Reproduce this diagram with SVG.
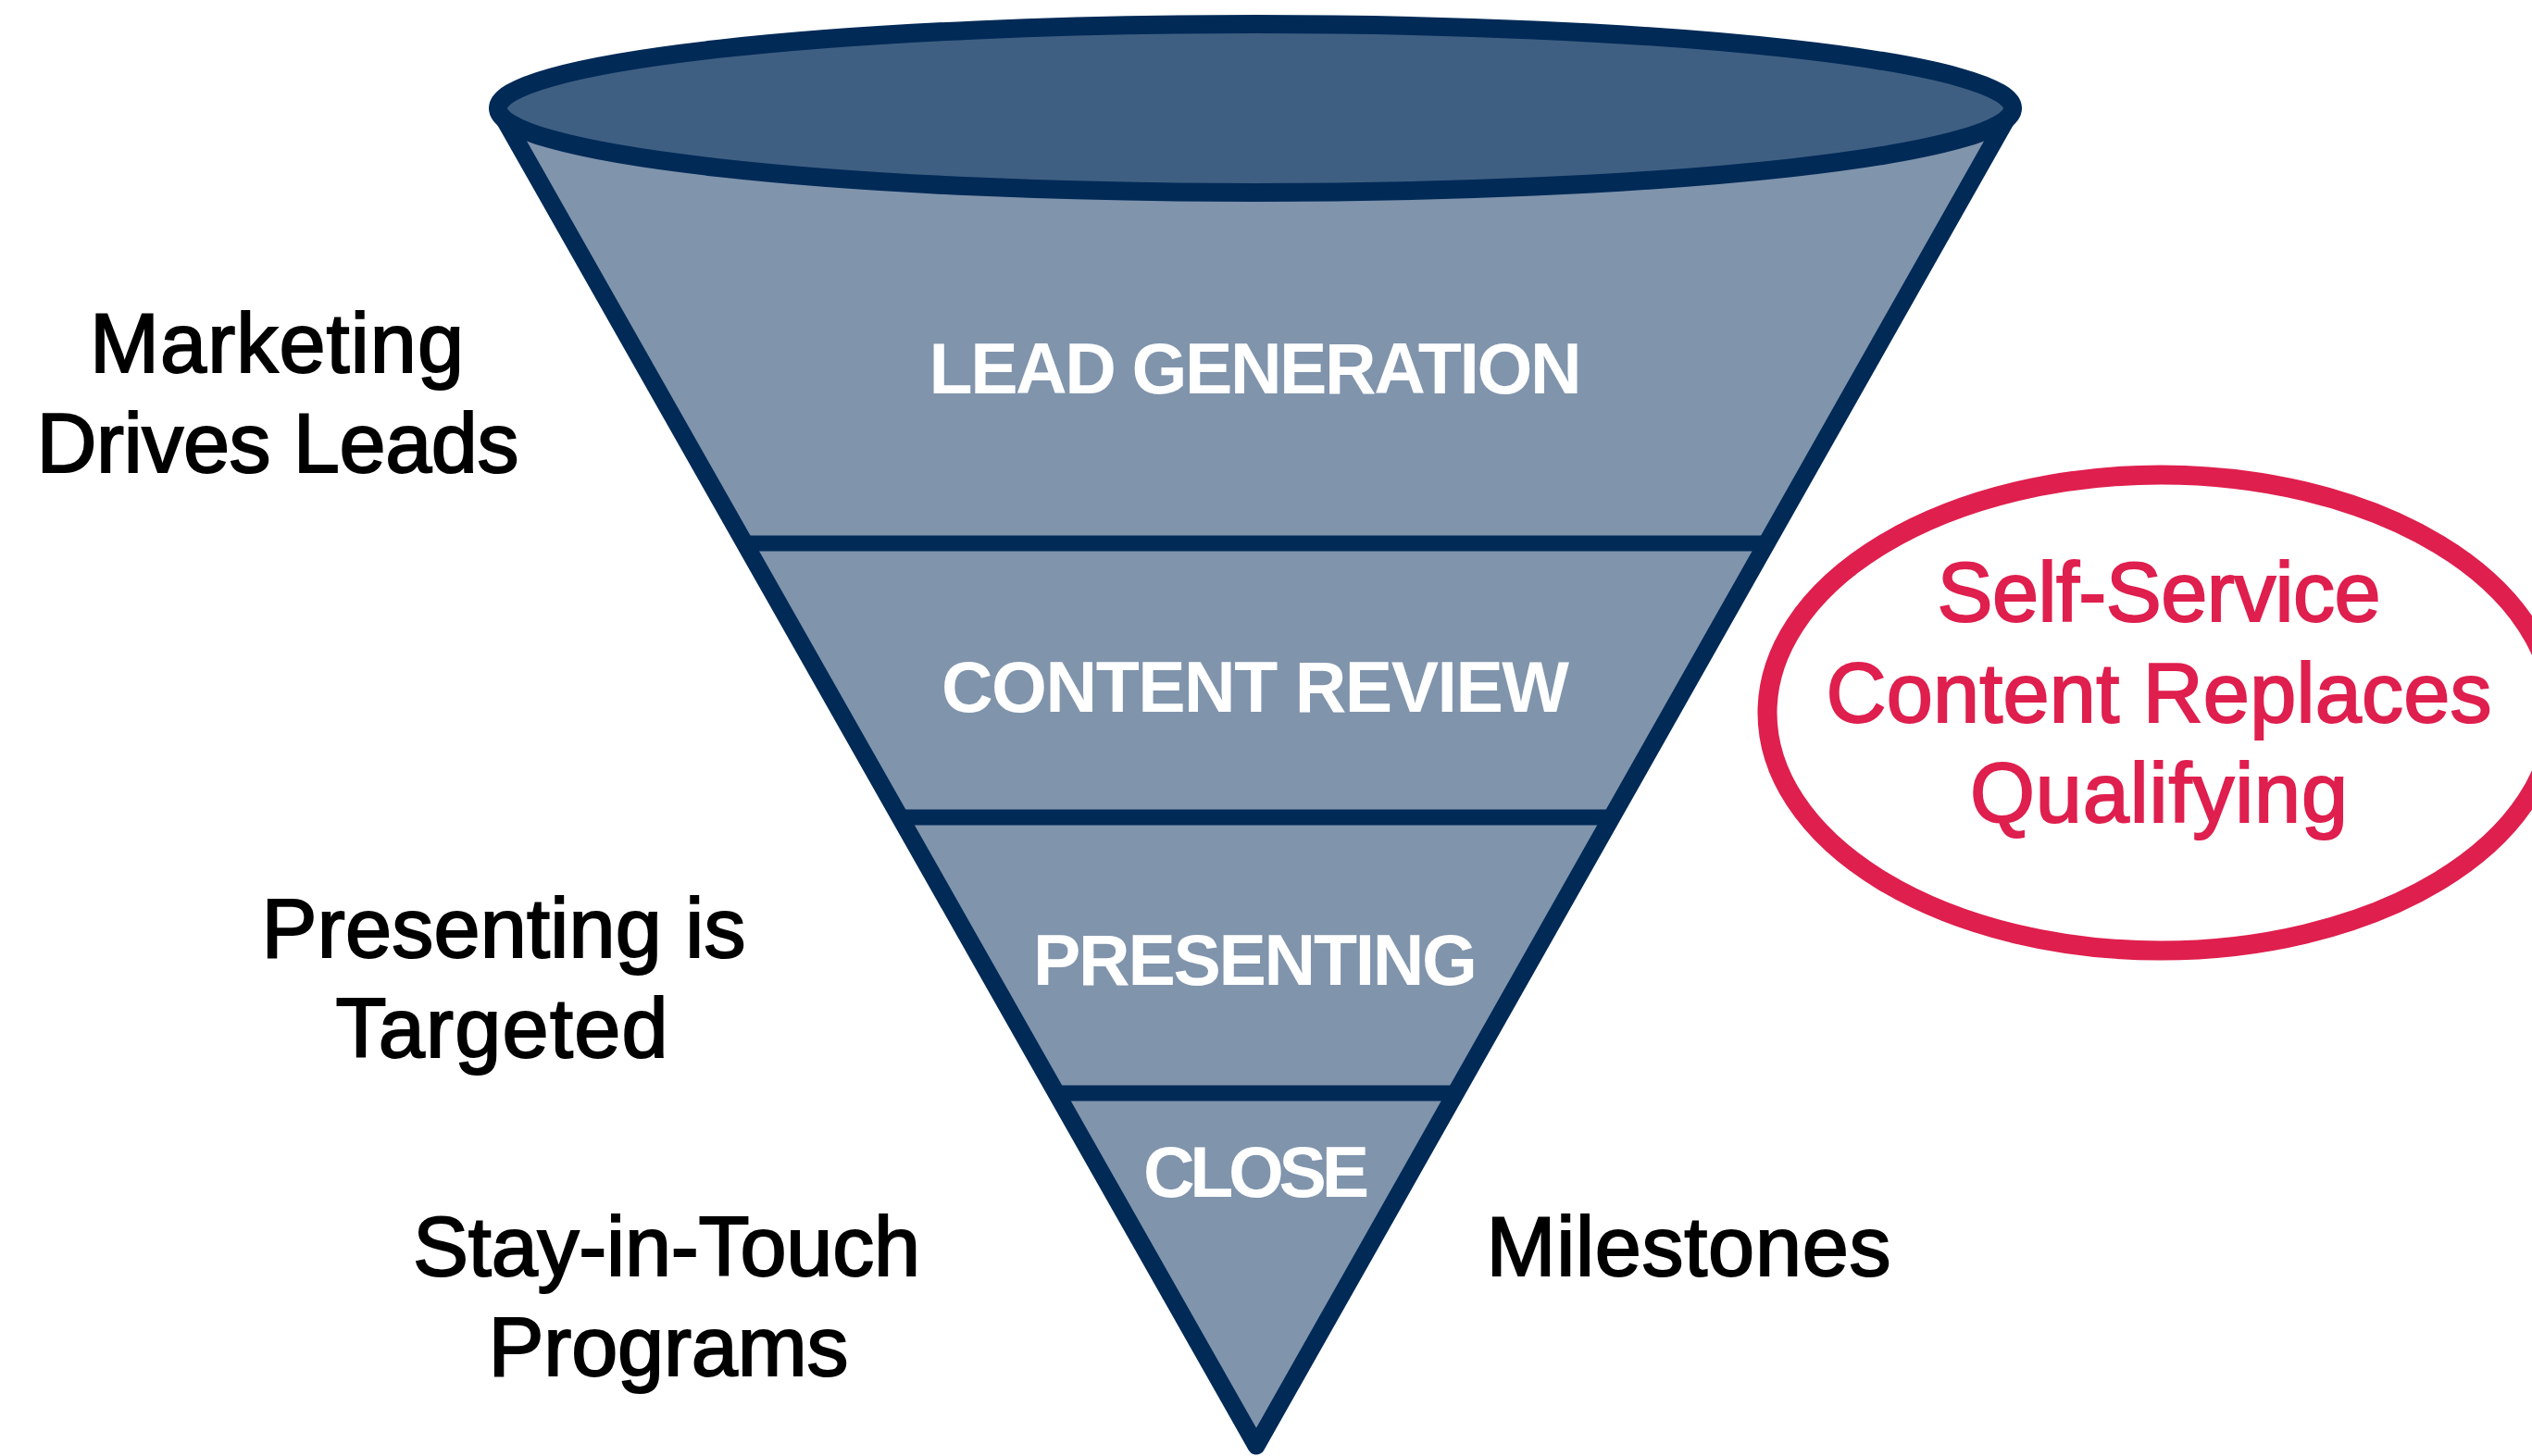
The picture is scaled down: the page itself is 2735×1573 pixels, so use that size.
<svg xmlns="http://www.w3.org/2000/svg" width="2735" height="1573" viewBox="0 0 2735 1573">
<style>
.edge{stroke:#012A57;fill:none;stroke-linecap:round;stroke-linejoin:round}
.stage{font-family:"Liberation Sans",Arial,sans-serif;font-size:77px;font-weight:bold;fill:#ffffff;text-anchor:middle}
.lbl{font-family:"Liberation Sans",Arial,sans-serif;font-size:90px;fill:#000000;stroke:#000000;stroke-width:2;text-anchor:middle}
.red{font-family:"Liberation Sans",Arial,sans-serif;font-size:90px;fill:#DF1F4E;stroke:#DF1F4E;stroke-width:2;text-anchor:middle}
</style>
<rect width="2735" height="1573" fill="#ffffff"/>
<g id="funnel">
  <polygon points="538,117 2174,117 1357,1562" fill="#8094AC"/>
  <polyline class="edge" points="538,117 1357,1562 2174,117" stroke-width="19"/>
  <ellipse cx="1356" cy="117" rx="818" ry="91" fill="#3F5F82" stroke="#012A57" stroke-width="20"/>
</g>
<g id="connectors">
  <line class="edge" x1="804" y1="587" x2="1908" y2="587" stroke-width="17" stroke-linecap="butt"/>
  <line class="edge" x1="972" y1="883" x2="1740" y2="883" stroke-width="17" stroke-linecap="butt"/>
  <line class="edge" x1="1141" y1="1181" x2="1571" y2="1181" stroke-width="17" stroke-linecap="butt"/>
</g>
<g id="stage-lead"><text class="stage" x="1356" y="425" textLength="705">LEAD GENERATION</text></g>
<g id="stage-content"><text class="stage" x="1356" y="769" textLength="678">CONTENT REVIEW</text></g>
<g id="stage-presenting"><text class="stage" x="1356" y="1064" textLength="480">PRESENTING</text></g>
<g id="stage-close"><text class="stage" x="1357" y="1293" textLength="244">CLOSE</text></g>
<g id="label-marketing">
  <text class="lbl" x="299" y="402" textLength="404">Marketing</text>
  <text class="lbl" x="300" y="510" textLength="521">Drives Leads</text>
</g>
<g id="label-presenting">
  <text class="lbl" x="544" y="1034" textLength="523">Presenting is</text>
  <text class="lbl" x="542" y="1142" textLength="359">Targeted</text>
</g>
<g id="label-stay">
  <text class="lbl" x="720" y="1378" textLength="548">Stay-in-Touch</text>
  <text class="lbl" x="722" y="1486" textLength="389">Programs</text>
</g>
<g id="label-milestones">
  <text class="lbl" x="1824" y="1378" textLength="437">Milestones</text>
</g>
<g id="callout-selfservice">
  <ellipse cx="2334" cy="770" rx="425" ry="257" fill="none" stroke="#DF1F4E" stroke-width="21"/>
  <text class="red" x="2332" y="671" textLength="479">Self-Service</text>
  <text class="red" x="2332" y="780" textLength="719">Content Replaces</text>
  <text class="red" x="2332" y="888" textLength="408">Qualifying</text>
</g>
</svg>
